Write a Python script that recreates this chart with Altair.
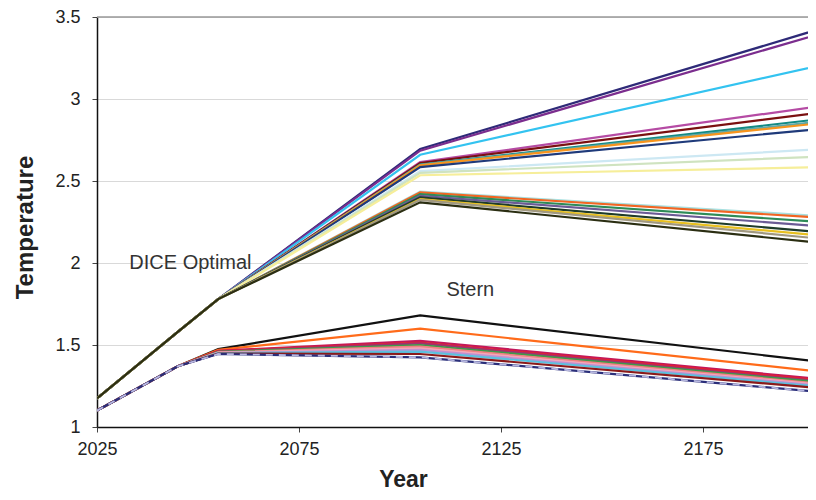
import altair as alt
import pandas as pd

years = [2025, 2045, 2055, 2105, 2205]

# DICE Optimal runs
dice_names = ["d_navy", "d_purple", "d_sky", "d_magenta", "d_maroon", "d_teal", "d_lteal",
              "d_orange", "d_blue", "d_paleblue", "d_palegreen", "d_paleyellow",
              "d_lcyan", "d_orangered", "d_green", "d_slate", "d_darkgreen", "d_gold",
              "d_tan", "d_olive"]
dice_colors = ["#2E2A78", "#7B2D8E", "#33C3F0", "#B54BA4", "#7A1010", "#138A84", "#5FA8A8",
               "#F7941D", "#1F3A7A", "#CDE8F3", "#CFE3C0", "#F6EE9A",
               "#A8E0E0", "#F26522", "#2E8B57", "#6B5B95", "#1E3B2A", "#E8C020",
               "#A09880", "#2B2E12"]
dice_2025 = [1.175] * 20
dice_2045 = [1.58] * 20
dice_2055 = [1.78] * 20
dice_2105 = [2.695, 2.685, 2.66, 2.615, 2.61, 2.60, 2.598, 2.595, 2.585, 2.56, 2.55, 2.535,
             2.435, 2.43, 2.42, 2.41, 2.40, 2.39, 2.385, 2.37]
dice_2205 = [3.435, 3.405, 3.21, 2.96, 2.92, 2.88, 2.865, 2.855, 2.82, 2.695, 2.65, 2.585,
             2.285, 2.275, 2.248, 2.222, 2.186, 2.166, 2.146, 2.12]

# Stern runs
stern_names = ["s_black", "s_orange", "s_crimson", "s_red", "s_magenta", "s_green", "s_salmon",
               "s_pink", "s_lilac", "s_lblue", "s_darkred", "s_navy"]
stern_colors = ["#111111", "#FF6B1A", "#C2185B", "#E8202A", "#A0306E", "#3E9A4A", "#F08080",
                "#F4A6B8", "#C090D0", "#5BC0DE", "#8B1A1A", "#2B2F7A"]
stern_2025 = [1.10] * 12
stern_2045 = [1.37] * 12
stern_2055 = [1.475, 1.47, 1.465, 1.462, 1.46, 1.458, 1.455, 1.453, 1.45, 1.45, 1.448, 1.445]
stern_2105 = [1.68, 1.60, 1.525, 1.515, 1.51, 1.50, 1.49, 1.48, 1.47, 1.46, 1.445, 1.425]
stern_2205 = [1.395, 1.335, 1.29, 1.283, 1.276, 1.27, 1.262, 1.256, 1.25, 1.244, 1.235, 1.212]

x_ticks = [2025, 2075, 2125, 2175]
y_ticks = [1, 1.5, 2, 2.5, 3, 3.5]

ann_text = ["DICE Optimal", "Stern"]
ann_x = [2033, 2111.5]
ann_y = [2.0, 1.835]

rows = []
order = 0
for names, cols in ((dice_names, [dice_2025, dice_2045, dice_2055, dice_2105, dice_2205]),
                    (stern_names, [stern_2025, stern_2045, stern_2055, stern_2105, stern_2205])):
    for i, n in enumerate(names):
        for yr, col in zip(years, cols):
            rows.append({"series": n, "year": yr, "temp": col[i], "ord": order})
        order += 1
df = pd.DataFrame(rows)

all_names = dice_names + stern_names
all_colors = dice_colors + stern_colors

FONT = "Liberation Sans"

xscale = alt.Scale(domain=[2025, 2201], nice=False, zero=False)
yscale = alt.Scale(domain=[1, 3.5], nice=False, zero=False)

xaxis = alt.Axis(values=x_ticks, format="d", title="Year", labelFontSize=18, labelColor="#222",
                 tickSize=5, tickColor="#444", domainColor="#111", domainWidth=1.5, grid=False,
                 labelPadding=8, labelFlush=False, titleFontSize=23, titleFontWeight="bold",
                 titleColor="#222", titleX=306, titleY=41, titleAlign="center",
                 titleBaseline="top")
yaxis = alt.Axis(values=y_ticks, format="~g", title="Temperature", labelFontSize=18,
                 labelColor="#222", tickSize=5, tickColor="#444", domainColor="#111",
                 domainWidth=1.5, grid=True, gridColor="#D9D9D9", gridWidth=1, labelPadding=12,
                 labelFlush=False, titleFontSize=24, titleFontWeight="bold", titleColor="#222",
                 titleX=-72, titleY=210, titleAngle=-90, titleAlign="center",
                 titleBaseline="middle")

lines = alt.Chart(df).mark_line(strokeWidth=2.2, clip=True).encode(
    x=alt.X("year:Q", scale=xscale, axis=xaxis),
    y=alt.Y("temp:Q", scale=yscale, axis=yaxis),
    color=alt.Color("series:N", scale=alt.Scale(domain=all_names, range=all_colors), legend=None),
    order=alt.Order("year:Q"),
)

dashed = alt.Chart(df[df["series"] == "s_navy"]).mark_line(
    strokeWidth=1.8, strokeDash=[7, 6], color="#B8B8E0", clip=True
).encode(
    x=alt.X("year:Q", scale=xscale),
    y=alt.Y("temp:Q", scale=yscale),
)

top = alt.Chart(pd.DataFrame({"v": [3.5]})).mark_rule(color="#999999", strokeWidth=1.5).encode(
    y=alt.Y("v:Q", scale=yscale)
)

ann = alt.Chart(pd.DataFrame({"t": ann_text, "x": ann_x, "y": ann_y})).mark_text(
    align="left", baseline="middle", fontSize=20, font=FONT, color="#333"
).encode(
    x=alt.X("x:Q", scale=xscale),
    y=alt.Y("y:Q", scale=yscale),
    text="t:N",
)

chart = alt.layer(top, lines, dashed, ann).properties(
    width=711, height=410,
    padding={"left": 89, "top": 9, "right": 0, "bottom": 65},
    autosize="none",
).configure_view(stroke=None).configure_axis(labelFont=FONT, titleFont=FONT)

chart.save("out.html", embed_options={"renderer": "svg", "actions": False})
